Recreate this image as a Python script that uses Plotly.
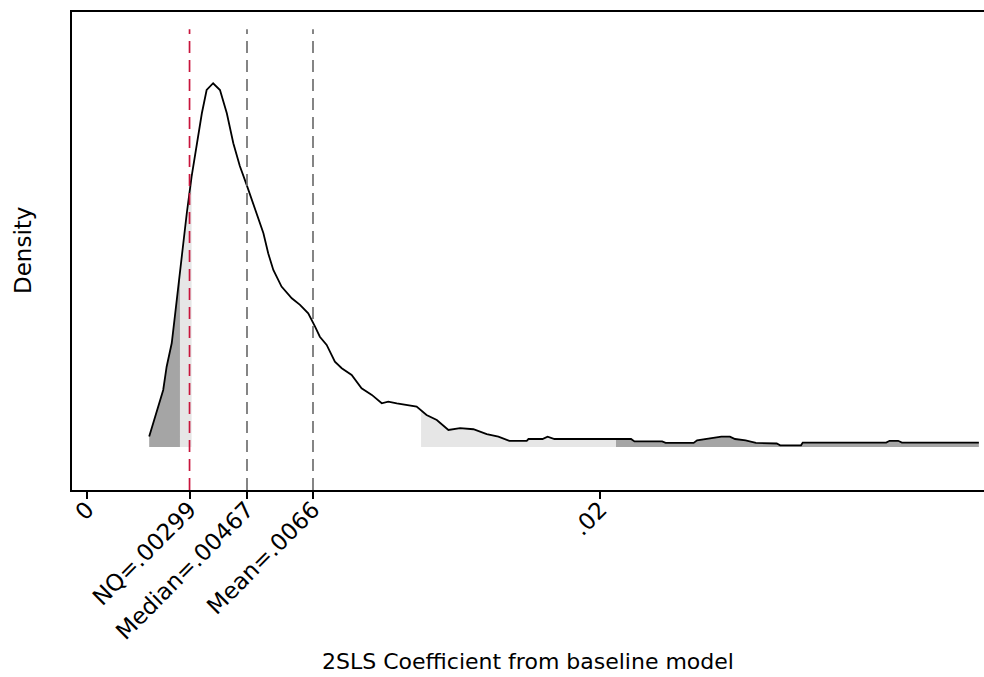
import numpy as np
import plotly.graph_objects as go

# Kernel density of the 2SLS coefficient
coef = [0.00181, 0.00193, 0.00208, 0.00222, 0.00232, 0.00247, 0.00256, 0.00266, 0.00276,
        0.00291, 0.00305, 0.00320, 0.00335, 0.00349, 0.00368, 0.00388, 0.00408, 0.00427,
        0.00446, 0.00466, 0.00485, 0.00500, 0.00515, 0.00529, 0.00544, 0.00568, 0.00598,
        0.00622, 0.00646, 0.00666, 0.00680, 0.00700, 0.00724, 0.00744, 0.00773, 0.00802,
        0.00832, 0.00861, 0.00880, 0.00905, 0.00934, 0.00963, 0.00992, 0.01022, 0.01056,
        0.01090, 0.01129, 0.01168, 0.01202, 0.01234, 0.01285, 0.01290, 0.01331, 0.01346,
        0.01366, 0.01590, 0.01600, 0.01681, 0.01691, 0.01773, 0.01783, 0.01818, 0.01854,
        0.01879, 0.01894, 0.01925, 0.01955, 0.02016, 0.02026, 0.02087, 0.02092, 0.02336,
        0.02346, 0.02371, 0.02382, 0.02607]
density = [6.9, 16.0, 26.9, 38.0, 53.5, 69.3, 86.9, 106.9, 124.7,
           156.0, 180.2, 200.2, 222.5, 238.0, 242.5, 238.0, 222.5, 202.5,
           187.3, 174.7, 162.5, 153.5, 142.5, 129.1, 118.0, 106.9, 99.1,
           94.7, 89.1, 80.2, 73.5, 68.0, 56.9, 52.5, 48.0, 39.1,
           34.7, 29.1, 30.2, 29.1, 28.0, 26.9, 21.3, 18.0, 11.3,
           12.5, 11.8, 8.5, 6.9, 4.1, 4.1, 5.3, 5.3, 6.9,
           5.3, 5.3, 3.7, 3.7, 2.7, 2.7, 4.4, 5.5, 6.9,
           6.9, 5.3, 4.4, 2.7, 2.3, 1.1, 1.1, 2.9, 2.9,
           4.1, 4.1, 2.9, 2.9]

# Percentile cut-offs used for the shaded tails
p05, p10, p90, p95 = 0.00271, 0.00305, 0.00976, 0.01546

# Reference lines
nq_val, median_val, mean_val = 0.00299, 0.00467, 0.0066

tick_vals = [0, nq_val, median_val, mean_val, 0.015]
tick_text = ["0", "NQ=.00299", "Median=.00467", "Mean=.0066", ".02"]

DARK = "#a5a5a5"
LIGHT = "#e6e6e6"
FONT = "DejaVu Sans"


def segment(lo, hi):
    xs = [lo] + [c for c in coef if lo < c < hi] + [hi]
    ys = list(np.interp(xs, coef, density))
    return xs, ys


fig = go.Figure()
for lo, hi, col in [(coef[0], p05, DARK), (p05, p10, LIGHT),
                    (p90, p95, LIGHT), (p95, coef[-1], DARK)]:
    xs, ys = segment(lo, hi)
    fig.add_trace(go.Scatter(x=xs, y=ys, mode="lines", line=dict(width=0),
                             fill="tozeroy", fillcolor=col, hoverinfo="skip",
                             showlegend=False))

fig.add_trace(go.Scatter(x=coef, y=density, mode="lines",
                         line=dict(color="black", width=1.8), showlegend=False))

for val, col in [(nq_val, "#c8143c"), (median_val, "#707070"), (mean_val, "#707070")]:
    fig.add_shape(type="line", xref="x", yref="paper", x0=val, x1=val, y0=0, y1=0.964,
                  line=dict(color=col, width=1.7, dash="12px,7px"))

fig.add_annotation(text="Density", xref="paper", yref="paper", x=-0.0537, y=0.5,
                   textangle=-90, showarrow=False, xanchor="center", yanchor="middle",
                   font=dict(family=FONT, size=23, color="black"))
fig.add_annotation(text="2SLS Coefficient from baseline model", xref="paper", yref="paper",
                   x=0.5, y=-0.389, showarrow=False, xanchor="center", yanchor="bottom",
                   font=dict(family=FONT, size=22, color="black"))

fig.update_layout(
    width=984, height=677,
    margin=dict(l=72, r=0, t=12, b=187),
    paper_bgcolor="white", plot_bgcolor="white",
    xaxis=dict(range=[-0.000447, 0.02622], tickvals=tick_vals, ticktext=tick_text,
               tickangle=-45, ticks="outside", ticklen=7, tickwidth=1.8, tickcolor="black",
               ticklabelstandoff=-12,
               showline=True, linecolor="black", linewidth=2, mirror=True,
               showgrid=False, zeroline=False,
               tickfont=dict(family=FONT, size=23, color="black")),
    yaxis=dict(range=[-28.7, 290], showticklabels=False, ticks="", showline=True,
               linecolor="black", linewidth=2, mirror=False,
               showgrid=False, zeroline=False),
)

fig.write_html("out.html")
